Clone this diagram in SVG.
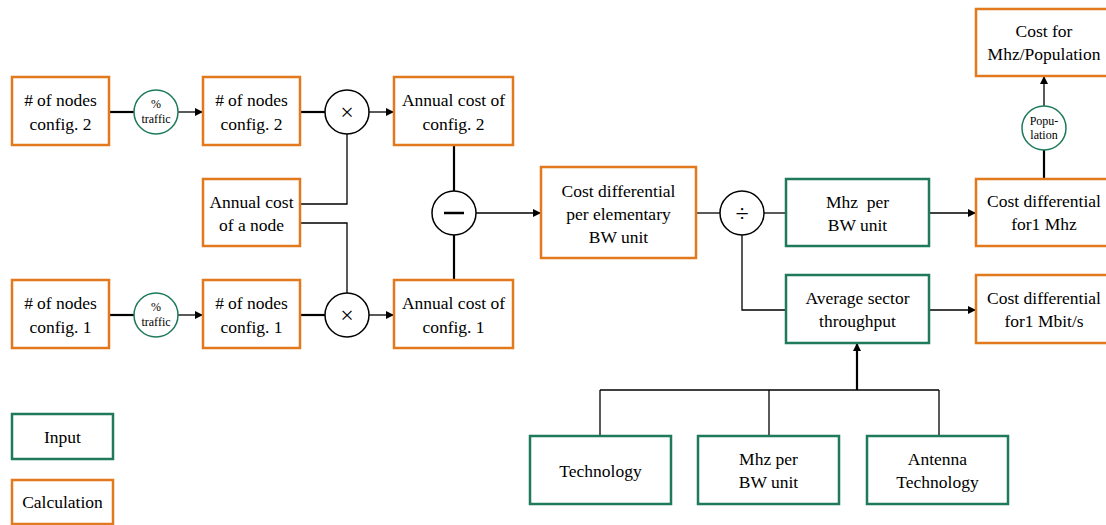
<svg xmlns="http://www.w3.org/2000/svg" width="1106" height="525" viewBox="0 0 1106 525" font-family="'Liberation Serif', 'Times New Roman', 'DejaVu Serif', serif">
<style>
.calc{fill:#fff;stroke:#E2791C;stroke-width:2.5}
.inp{fill:#fff;stroke:#1F7A5B;stroke-width:2.5}
.op{fill:#fff;stroke:#000;stroke-width:1.5}
.fac{fill:#fff;stroke:#1F7A5B;stroke-width:1.5}
text{font-size:17.5px;fill:#000;text-anchor:middle}
.sm{font-size:12px}
.sym{font-size:24px}
.c{fill:none;stroke:#000;stroke-width:1.3}
.t{fill:none;stroke:#000;stroke-width:2.2}
.a{marker-end:url(#ah)}
</style>
<defs>
<marker id="ah" viewBox="0 0 10 10" refX="10" refY="5" markerWidth="10" markerHeight="8" markerUnits="userSpaceOnUse" orient="auto">
<path d="M0,0 L10,5 L0,10 z" fill="#000"/>
</marker>
</defs>
<rect width="1106" height="525" fill="#fff"/>
<g id="connectors">
<line class="t" x1="109" y1="112" x2="134" y2="112"/>
<line class="c a" x1="178" y1="112" x2="203" y2="112"/>
<line class="t" x1="300" y1="112" x2="325" y2="112"/>
<line class="c a" x1="369" y1="112" x2="394" y2="112"/>
<line class="t" x1="109" y1="315" x2="134" y2="315"/>
<line class="c a" x1="178" y1="315" x2="203" y2="315"/>
<line class="t" x1="300" y1="315" x2="325" y2="315"/>
<line class="c a" x1="369" y1="315" x2="394" y2="315"/>
<polyline class="c" points="347,134 347,204 300,204"/>
<polyline class="c" points="300,223 347,223 347,293"/>
<line class="t" x1="454" y1="145" x2="454" y2="191"/>
<line class="t" x1="454" y1="235" x2="454" y2="280"/>
<line class="c a" x1="476" y1="213" x2="541" y2="213"/>
<line class="c" x1="696" y1="213" x2="720" y2="213"/>
<line class="c" x1="764" y1="213" x2="786" y2="213"/>
<polyline class="c" points="742,235 742,310 786,310"/>
<line class="c a" x1="929" y1="213" x2="976" y2="213"/>
<line class="c a" x1="929" y1="310" x2="976" y2="310"/>
<line class="t" x1="1044" y1="179" x2="1044" y2="150"/>
<line class="c a" x1="1044" y1="106" x2="1044" y2="76"/>
<line class="c" x1="600" y1="436" x2="600" y2="390"/>
<line class="c" x1="769" y1="436" x2="769" y2="390"/>
<line class="c" x1="939" y1="436" x2="939" y2="390"/>
<line class="c" x1="600" y1="390" x2="939" y2="390"/>
<line class="t a" x1="857" y1="390" x2="857" y2="343"/>
</g>
<g id="n_nodes2_in"><rect class="calc" x="12" y="77" width="97" height="68"/><text x="60.5" y="106">#<tspan dx="4">of nodes</tspan></text><text x="60.5" y="130">config. 2</text></g>
<g id="f_traffic2"><circle class="fac" cx="156" cy="112" r="22"/><text class="sm" x="156" y="108">%</text><text class="sm" x="156" y="123">traffic</text></g>
<g id="n_nodes2"><rect class="calc" x="203" y="77" width="97" height="68"/><text x="251.5" y="106">#<tspan dx="4">of nodes</tspan></text><text x="251.5" y="130">config. 2</text></g>
<g id="op_mul2"><circle class="op" cx="347" cy="112" r="22"/><text class="sym" x="347" y="120">×</text></g>
<g id="n_annual2"><rect class="calc" x="394" y="77" width="119" height="68"/><text x="453.5" y="106">Annual cost of</text><text x="453.5" y="130">config. 2</text></g>
<g id="n_node_cost"><rect class="calc" x="203" y="179" width="97" height="67"/><text x="251.5" y="208">Annual cost</text><text x="251.5" y="231">of a node</text></g>
<g id="n_nodes1_in"><rect class="calc" x="12" y="280" width="97" height="68"/><text x="60.5" y="309">#<tspan dx="4">of nodes</tspan></text><text x="60.5" y="333">config. 1</text></g>
<g id="f_traffic1"><circle class="fac" cx="156" cy="315" r="22"/><text class="sm" x="156" y="311">%</text><text class="sm" x="156" y="326">traffic</text></g>
<g id="n_nodes1"><rect class="calc" x="203" y="280" width="97" height="68"/><text x="251.5" y="309">#<tspan dx="4">of nodes</tspan></text><text x="251.5" y="333">config. 1</text></g>
<g id="op_mul1"><circle class="op" cx="347" cy="315" r="22"/><text class="sym" x="347" y="323">×</text></g>
<g id="n_annual1"><rect class="calc" x="394" y="280" width="119" height="68"/><text x="453.5" y="309">Annual cost of</text><text x="453.5" y="333">config. 1</text></g>
<g id="op_minus"><circle class="op" cx="454" cy="213" r="22"/><line x1="444" y1="213" x2="464" y2="213" stroke="#000" stroke-width="2.5"/></g>
<g id="n_costdiff"><rect class="calc" x="541" y="167" width="155" height="91"/><text x="618.5" y="197">Cost differential</text><text x="618.5" y="220">per elementary</text><text x="618.5" y="243">BW unit</text></g>
<g id="op_div"><circle class="op" cx="742" cy="213" r="22"/><text class="sym" x="742" y="221">÷</text></g>
<g id="n_mhz_bw"><rect class="inp" x="786" y="179" width="143" height="67"/><text x="857.5" y="208" xml:space="preserve">Mhz  per</text><text x="857.5" y="231">BW unit</text></g>
<g id="n_avg"><rect class="inp" x="786" y="275" width="143" height="68"/><text x="857.5" y="304">Average sector</text><text x="857.5" y="327">throughput</text></g>
<g id="n_diff_mhz"><rect class="calc" x="976" y="179" width="136" height="67"/><text x="1044" y="207">Cost differential</text><text x="1044" y="230">for1 Mhz</text></g>
<g id="n_diff_mbit"><rect class="calc" x="976" y="275" width="136" height="68"/><text x="1044" y="304">Cost differential</text><text x="1044" y="327">for1 Mbit/s</text></g>
<g id="f_population"><circle class="fac" cx="1044" cy="128" r="22"/><text class="sm" x="1044" y="125">Popu-</text><text class="sm" x="1044" y="139">lation</text></g>
<g id="n_cost_pop"><rect class="calc" x="976" y="9" width="136" height="67"/><text x="1044" y="37">Cost for</text><text x="1044" y="60">Mhz/Population</text></g>
<g id="n_technology"><rect class="inp" x="530" y="436" width="141" height="68"/><text x="600.5" y="477">Technology</text></g>
<g id="n_mhz_bw2"><rect class="inp" x="698" y="436" width="141" height="68"/><text x="768.5" y="465">Mhz per</text><text x="768.5" y="488">BW unit</text></g>
<g id="n_antenna"><rect class="inp" x="867" y="436" width="141" height="68"/><text x="937.5" y="465">Antenna</text><text x="937.5" y="488">Technology</text></g>
<g id="legend_input"><rect class="inp" x="12" y="414" width="101" height="45"/><text x="62.5" y="443">Input</text></g>
<g id="legend_calc"><rect class="calc" x="12" y="480" width="101" height="44"/><text x="62.5" y="508">Calculation</text></g>
</svg>
